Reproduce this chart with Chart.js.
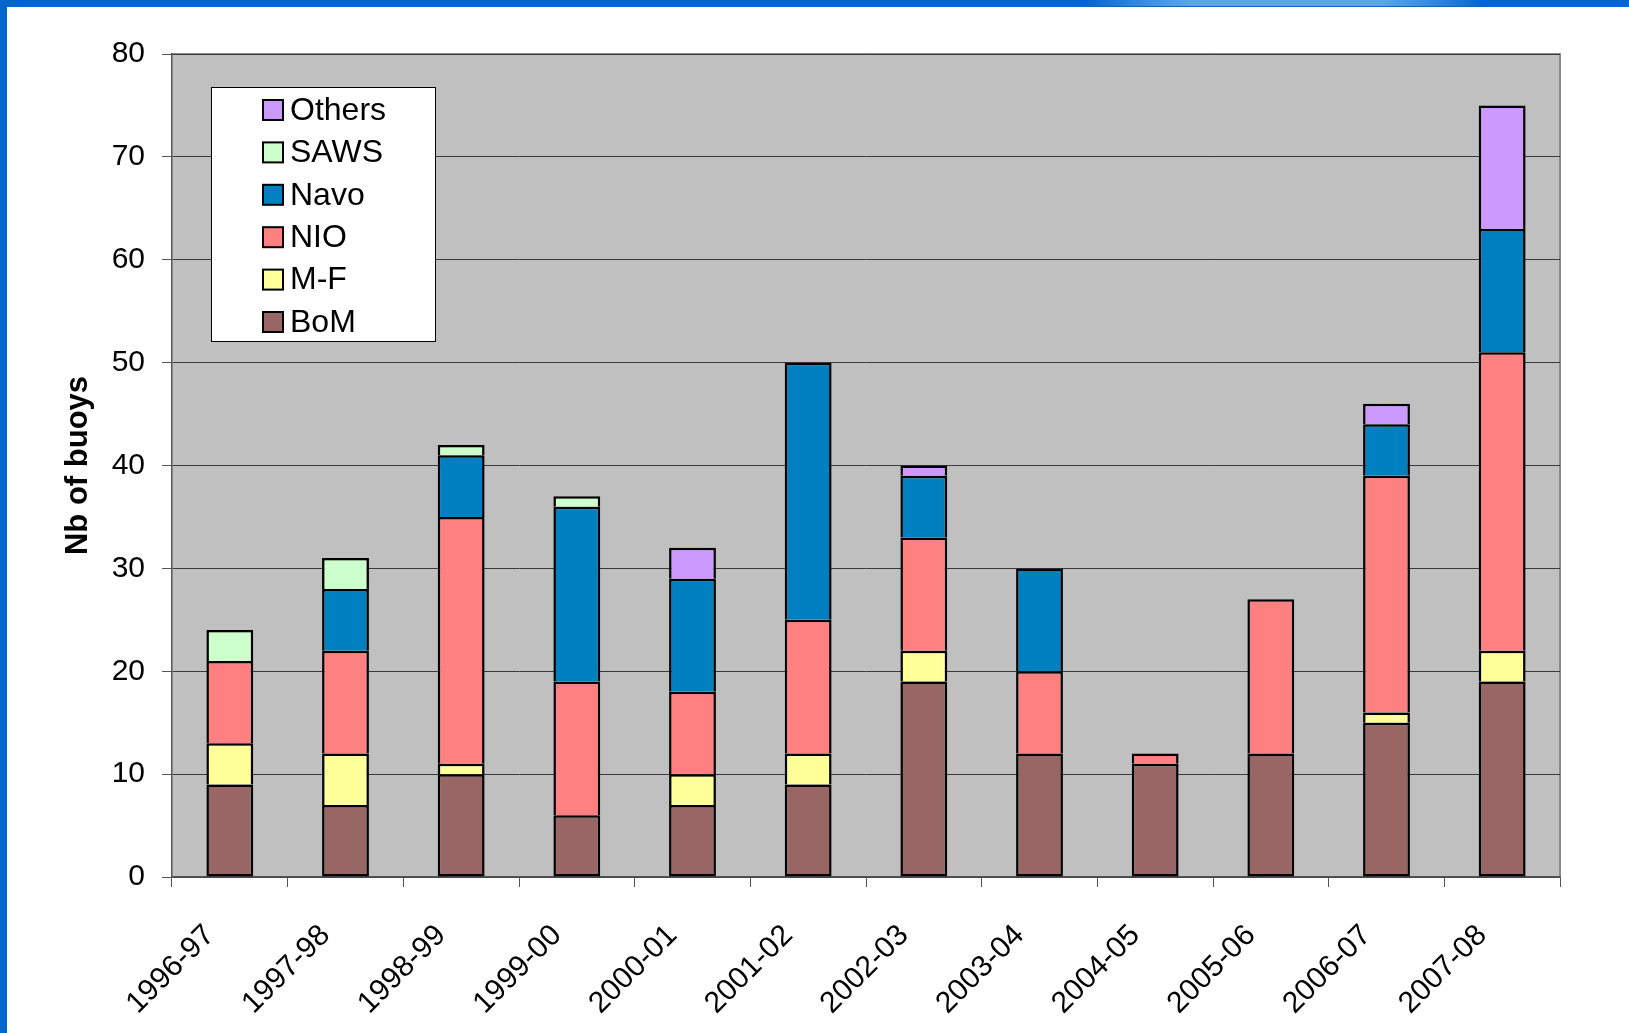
<!DOCTYPE html>
<html>
<head>
<meta charset="utf-8">
<title>Nb of buoys</title>
<script src="https://cdn.jsdelivr.net/npm/chart.js@4.4.1/dist/chart.umd.min.js"></script>
<style>
    html, body { margin: 0; padding: 0; background: #fff; }
    #cadre { position: relative; width: 1629px; height: 1033px; overflow: hidden; background: #fff; }
    #zone-graphique { position: absolute; left: 0; top: 0; width: 1629px; height: 1033px; }
    #bande-haut { position: absolute; left: 0; top: 0; width: 1629px; height: 7px; background: #0066CC; }
    #reflet { position: absolute; left: 1086px; top: 0; width: 398px; height: 6px;
              background: linear-gradient(to right, #0066CC, #3A8BE0 14%, #5AA5EB 26%, #5AA5EB 74%, #3A8BE0 86%, #0066CC); }
    #bande-gauche { position: absolute; left: 0; top: 0; width: 7px; height: 1033px; background: #0066CC; }
</style>
</head>
<body>
<div id="cadre">
    <div id="zone-graphique"><canvas id="graphique"></canvas></div>
    <div id="bande-haut"></div>
    <div id="reflet"></div>
    <div id="bande-gauche"></div>
</div>
<script>
// --- données : bouées déployées par saison et par fournisseur ---
var saisons = ['1996-97', '1997-98', '1998-99', '1999-00', '2000-01', '2001-02',
               '2002-03', '2003-04', '2004-05', '2005-06', '2006-07', '2007-08'];

var bom    = [9, 7, 10, 6, 7, 9, 19, 12, 11, 12, 15, 19];
var mf     = [4, 5, 1, null, 3, 3, 3, null, null, null, 1, 3];
var nio    = [8, 10, 24, 13, 8, 13, 11, 8, 1, 15, 23, 29];
var navo   = [null, 6, 6, 17, 11, 25, 6, 10, null, null, 5, 12];
var saws   = [3, 3, 1, 1, null, null, null, null, null, null, null, null];
var autres = [null, null, null, null, 3, null, 1, null, null, null, 2, 12];

var axeYMax = 80;
var axeYPas = 10;

var POLICE = '"Liberation Sans", Arial, sans-serif';

function serie(nom, valeurs, couleur) {
    return {
        label: nom,
        data: valeurs,
        backgroundColor: couleur,
        borderColor: '#000',
        borderWidth: 2.5,
        barPercentage: 0.405,
        categoryPercentage: 1.0
    };
}

var series = [
    serie('BoM', bom, '#996666'),
    serie('M-F', mf, '#FFFF99'),
    serie('NIO', nio, '#FF8080'),
    serie('Navo', navo, '#0080C0'),
    serie('SAWS', saws, '#CCFFCC'),
    serie('Others', autres, '#CC99FF')
];
// le segment du bas garde son contour sur l'axe
series[0].borderSkipped = false;

// fond gris de la zone de tracé + cadre
var fondTrace = {
    id: 'fondTrace',
    beforeDraw: function (chart) {
        var a = chart.chartArea, ctx = chart.ctx;
        ctx.save();
        ctx.fillStyle = '#C0C0C0';
        ctx.fillRect(a.left, a.top, a.right - a.left, a.bottom - a.top);
        ctx.strokeStyle = '#8a8a8a';
        ctx.lineWidth = 2;
        ctx.beginPath();
        ctx.moveTo(a.left, a.top);
        ctx.lineTo(a.right, a.top);
        ctx.lineTo(a.right, a.bottom);
        ctx.stroke();
        ctx.restore();
    }
};

// légende encadrée dans le coin supérieur gauche du tracé
var legendeEncart = {
    id: 'legendeEncart',
    afterDatasetsDraw: function (chart) {
        var a = chart.chartArea, ctx = chart.ctx;
        var x0 = a.left + 39, y0 = a.top + 33, larg = 225, haut = 255;
        ctx.save();
        ctx.fillStyle = '#fff';
        ctx.fillRect(x0, y0, larg, haut);
        ctx.strokeStyle = '#000';
        ctx.lineWidth = 1;
        ctx.strokeRect(x0 + 0.5, y0 + 0.5, larg - 1, haut - 1);

        var items = chart.data.datasets.slice().reverse();
        ctx.font = '32px ' + POLICE;
        ctx.textBaseline = 'middle';
        items.forEach(function (ds, i) {
            var cy = y0 + 23 + i * 42.4;
            ctx.fillStyle = ds.backgroundColor;
            ctx.fillRect(x0 + 52, cy - 10, 20, 20);
            ctx.lineWidth = 2;
            ctx.strokeRect(x0 + 52, cy - 10, 20, 20);
            ctx.fillStyle = '#000';
            ctx.fillText(ds.label, x0 + 79, cy + 1);
        });
        ctx.restore();
    }
};

new Chart(document.getElementById('graphique'), {
    type: 'bar',
    data: { labels: saisons, datasets: series },
    plugins: [fondTrace, legendeEncart],
    options: {
        responsive: true,
        maintainAspectRatio: false,
        animation: false,
        layout: { padding: { left: 0, right: 69, top: 54, bottom: 0 } },
        plugins: {
            legend: { display: false },
            tooltip: { enabled: false }
        },
        scales: {
            x: {
                stacked: true,
                grid: {
                    offset: true,
                    drawOnChartArea: false,
                    drawTicks: true,
                    tickLength: 10,
                    tickColor: '#555'
                },
                border: { color: '#555', width: 1.5 },
                ticks: {
                    color: '#000',
                    font: { family: POLICE, size: 30 },
                    maxRotation: 45,
                    minRotation: 45,
                    padding: 31,
                    labelOffset: -20,
                    autoSkip: false
                },
                afterFit: function (s) {
                    s.height = 156;
                    s.paddingLeft = 0;
                    s.paddingRight = 0;
                }
            },
            y: {
                stacked: true,
                min: 0,
                max: axeYMax,
                grid: {
                    color: '#3a3a3a',
                    lineWidth: 1,
                    drawTicks: true,
                    tickLength: 10,
                    tickColor: '#555'
                },
                border: { color: '#555', width: 1.5 },
                ticks: {
                    stepSize: axeYPas,
                    color: '#000',
                    font: { family: POLICE, size: 30 },
                    padding: 17
                },
                title: {
                    display: true,
                    text: 'Nb of buoys',
                    color: '#000',
                    font: { family: POLICE, size: 31, weight: 'bold' },
                    padding: { top: 60, bottom: 0 }
                },
                afterFit: function (s) {
                    s.width = 172;
                    s.paddingTop = 0;
                    s.paddingBottom = 0;
                }
            }
        }
    }
});
</script>
</body>
</html>
